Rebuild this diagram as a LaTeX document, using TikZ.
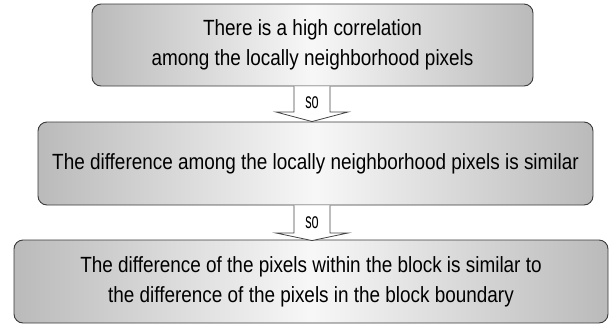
\documentclass[tikz,border=0pt]{standalone}
\usepackage{fontspec}
\setmainfont[FakeStretch=0.86]{Liberation Sans}
\newfontfamily\sofont[FakeStretch=0.58]{Liberation Sans}
\usetikzlibrary{calc}
\definecolor{edge}{HTML}{3A3A3A}
\definecolor{arrowedge}{HTML}{444444}
\tikzset{
  boxnode/.style={draw=edge, line width=0.9pt, rounded corners=9pt,
    left color=black!27, right color=black!27, middle color=black!3,
    align=center, inner sep=0pt,
    font=\fontsize{22}{30}\selectfont},
  fatarrow/.style={draw=arrowedge, fill=white, line width=0.8pt},
  solabel/.style={font=\sofont\fontsize{22}{22}\selectfont, inner sep=0pt}
}
\begin{document}
\begin{tikzpicture}[x=1pt,y=-1pt]
\useasboundingbox (0,0) rectangle (611,325);
\node[boxnode, minimum width=441pt, minimum height=82pt] (b1) at (312.5,45)
  {There is a high correlation\\among the locally neighborhood pixels};
\node[boxnode, minimum width=555pt, minimum height=83pt] (b2) at (315.5,163.5)
  {The difference among the locally neighborhood pixels is similar};
\node[boxnode, minimum width=594pt, minimum height=83pt] (b3) at (311,281.5)
  {The difference of the pixels within the block is similar to\\the difference of the pixels in the block boundary};
% arrow 1
\coordinate (a1) at (312,0);
\draw[fatarrow] ($(a1|-b1.south)+(-18,0)$) -- (294,112) -- (276,112)
  -- (a1|-b2.north) -- (348,112) -- (330,112) -- ($(a1|-b1.south)+(18,0)$);
\node[solabel] (so1) at (312,103) {so};
% arrow 2
\draw[fatarrow] ($(a1|-b2.south)+(-18,0)$) -- (294,233) -- (276,233)
  -- ($(a1|-b3.north)+(0,1)$) -- (348,233) -- (330,233) -- ($(a1|-b2.south)+(18,0)$);
\node[solabel] (so2) at (312,223) {so};
\end{tikzpicture}
\end{document}
